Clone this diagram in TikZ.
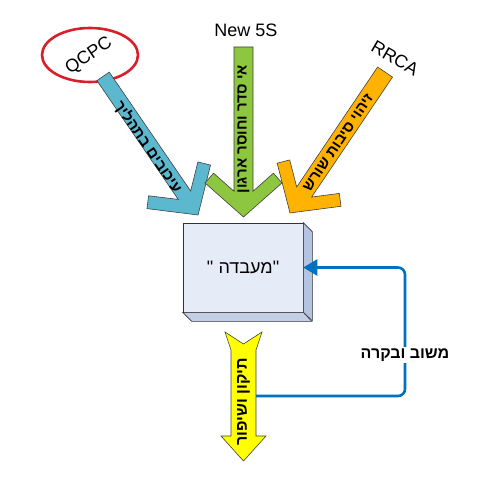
\documentclass[tikz,border=0pt]{standalone}
\usepackage{fontspec}
\setmainfont{Liberation Sans}
\newfontfamily\hebfont[Script=Hebrew]{Liberation Sans}
\TeXXeTstate=1
\usetikzlibrary{arrows.meta}

\definecolor{delayblue}{RGB}{92,184,206}
\definecolor{orderGreen}{RGB}{141,198,63}
\definecolor{causeorange}{RGB}{255,179,0}
\definecolor{fixyellow}{RGB}{255,255,0}
\definecolor{labfront}{RGB}{230,236,247}
\definecolor{labside}{RGB}{179,195,224}
\definecolor{fbblue}{RGB}{0,112,192}
\definecolor{ringred}{RGB}{215,32,43}

\tikzset{
  arrowline/.style={draw=black!75, line width=0.6pt, line join=miter},
  onarrow/.style={font=\hebfont\bfseries\fontsize{15}{15}\selectfont, inner sep=0pt},
  toplabel/.style={font=\fontsize{18}{18}\selectfont, inner sep=0pt},
  labbox/.style={draw=black!80, line width=0.6pt, fill=labfront, minimum width=120, minimum height=89,
    font=\hebfont\fontsize{18}{18}\selectfont},
  feedback/.style={draw=fbblue, line width=2.6pt, rounded corners=7pt, -{Triangle[length=14pt,width=16pt]}},
  fblabel/.style={font=\hebfont\bfseries\fontsize{16}{16}\selectfont, fill=white, inner sep=2pt}
}

% #1 colour, #2 tip, #3 rotation, #4 length, #5 half shaft width
\newcommand{\chevarrow}[5]{%
  \begin{scope}[shift={#2}, rotate=#3]
    \filldraw[arrowline, fill=#1] (0,0) -- (38.5,-34.1) -- (29.9,-43.8)
      -- (#5,{-43.8+0.885*(29.9-#5)}) -- (#5,-#4) -- (-#5,-#4)
      -- (-#5,{-43.8+0.885*(29.9-#5)}) -- (-29.9,-43.8) -- (-38.5,-34.1) -- cycle;
  \end{scope}}

\begin{document}
\begin{tikzpicture}[x=1pt, y=-1pt]
  \useasboundingbox (0,0) rectangle (500,492);

  % sources
  \node[toplabel] (new5s) at (246,30) {New 5S};
  \node[toplabel, rotate=34] (qcpc) at (89,56) {QCPC};
  \draw[ringred, line width=2.6pt] (90,55) ellipse [x radius=48, y radius=27];
  \node[toplabel, rotate=-30] (rrca) at (395,58) {RRCA};

  % arrows in
  \chevarrow{delayblue}{(198,215)}{34.4}{168}{7.5}
  \chevarrow{orderGreen}{(243.5,217)}{0}{170}{9.5}
  \chevarrow{causeorange}{(290,213)}{-34}{170}{9}

  \node[onarrow, rotate=-55.6] (delays) at (148,147) {\beginR עיכובים בתהליך\endR};
  \node[onarrow, rotate=90] (disorder) at (243.5,129) {\beginR אי סדר וחוסר ארגון\endR};
  \node[onarrow, rotate=56] (causes) at (338,143) {\beginR זיהוי סיבות שורש\endR};

  % the lab
  \node[labbox] (lab) at (243,267.5) {\hbox{"}\hspace{0.3em}\hbox{\beginR מעבדה\endR}\hbox{"}};
  \filldraw[draw=black!80, line width=0.6pt, fill=labside] (lab.north east) -- ++(9,9) -- ++(0,89) -- (lab.south east) -- cycle;
  \filldraw[draw=black!80, line width=0.6pt, fill=labside!80] (lab.south west) -- ++(9,9) -- ++(120,0) -- (lab.south east) -- cycle;

  % arrow out
  \filldraw[arrowline, fill=fixyellow] (225,332) -- (243.5,344) -- (262,332) -- (256,350) -- (256,436)
    -- (266,436) -- (243.5,461) -- (221,436) -- (231,436) -- (231,350) -- cycle;
  \node[onarrow, font=\hebfont\bfseries\fontsize{16}{16}\selectfont, rotate=90] (improve) at (243.5,402) {\beginR תיקון ושיפור\endR};

  % feedback
  \coordinate (fixout) at (256,396);
  \coordinate (turn) at (405,396);
  \draw[feedback] (fixout) -- (turn) |- (lab.east);
  \node[fblabel] (fb) at (405,355) {\beginR משוב ובקרה\endR};

\end{tikzpicture}
\end{document}
